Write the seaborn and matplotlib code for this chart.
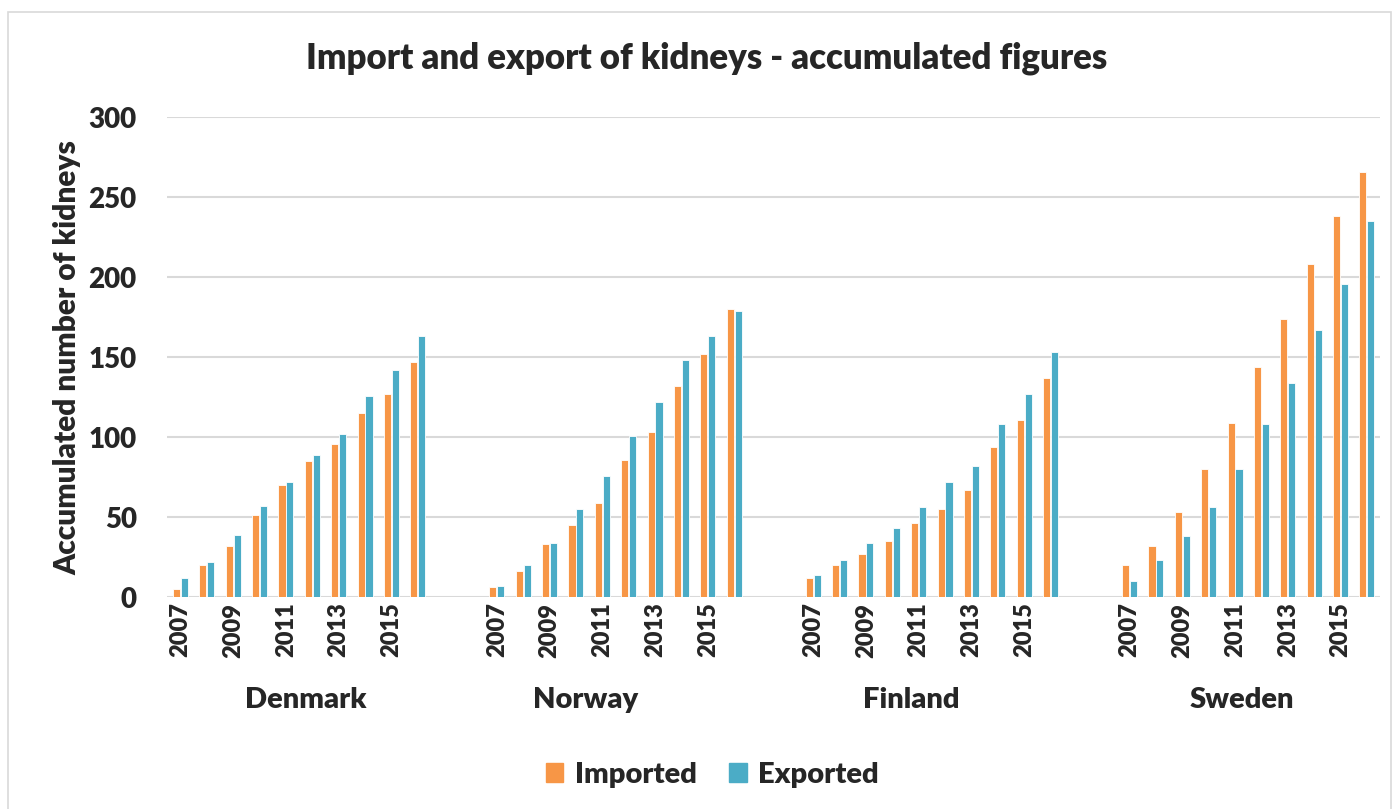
import pandas as pd
import matplotlib.pyplot as plt
import matplotlib.patches as mpatches
import seaborn as sns

# Data
countries = ["Denmark", "Norway", "Finland", "Sweden"]
years = list(range(2007, 2017))
imported = {
    "Denmark": [5, 20, 32, 51, 70, 85, 96, 115, 127, 147],
    "Norway": [6, 16, 33, 45, 59, 86, 103, 132, 152, 180],
    "Finland": [12, 20, 27, 35, 46, 55, 67, 94, 111, 137],
    "Sweden": [20, 32, 53, 80, 109, 144, 174, 208, 238, 266],
}
exported = {
    "Denmark": [12, 22, 39, 57, 72, 89, 102, 126, 142, 163],
    "Norway": [7, 20, 34, 55, 76, 101, 122, 148, 163, 179],
    "Finland": [14, 23, 34, 43, 56, 72, 82, 108, 127, 153],
    "Sweden": [10, 23, 38, 56, 80, 108, 134, 167, 196, 235],
}

# Excel-style layout: 10 years per country, 2 empty slots between countries
rows = []
for gi, c in enumerate(countries):
    for yi, yr in enumerate(years):
        pos = gi * 12 + yi
        rows.append({"pos": pos, "Series": "Imported", "value": imported[c][yi]})
        rows.append({"pos": pos, "Series": "Exported", "value": exported[c][yi]})
df = pd.DataFrame(rows)
n_slots = len(countries) * 12 - 2

sns.set_theme(style="white")
plt.rcParams["font.family"] = ["Lato", "DejaVu Sans"]
W = "heavy"
plt.rcParams["font.weight"] = W

fig = plt.figure(figsize=(13.94, 8.09), dpi=100)
ax = fig.add_axes([0.12, 0.262, 0.87, 0.593])

palette = {"Imported": "#F79646", "Exported": "#4BACC6"}
sns.barplot(data=df, x="pos", y="value", hue="Series", order=list(range(n_slots)),
            palette=palette, saturation=1, width=0.6, gap=0.1,
            edgecolor="white", linewidth=0.6, ax=ax, legend=False)

ax.set_ylim(0, 300)
ax.set_xlim(-0.5, n_slots - 0.5)
ax.set_yticks(range(0, 301, 50))
ax.yaxis.grid(True, color="#D9D9D9", linewidth=1.5)
ax.set_axisbelow(True)
for s in ax.spines.values():
    s.set_visible(False)
ax.tick_params(axis="both", length=0)
ax.tick_params(axis="y", labelsize=20, pad=22)
for t in ax.get_yticklabels():
    t.set_fontweight(W)

tick_pos, tick_lab = [], []
for gi in range(len(countries)):
    for yi, yr in enumerate(years):
        if yr % 2 == 1:
            tick_pos.append(gi * 12 + yi)
            tick_lab.append(str(yr))
ax.set_xticks(tick_pos)
ax.set_xticklabels(tick_lab, rotation=90, fontsize=17, fontweight=W)
ax.tick_params(axis="x", pad=4)
ax.set_xlabel("")
ax.set_ylabel("Accumulated number of kidneys", fontsize=21.5, fontweight=W, labelpad=5)

# country labels (Excel places them slightly off the bar-group centre)
label_offsets = [4.75, 3.35, 3.7, 4.25]
for gi, c in enumerate(countries):
    ax.text(gi * 12 + label_offsets[gi], -0.215, c, transform=ax.get_xaxis_transform(),
            ha="center", va="center", fontsize=21, fontweight=W)

fig.text(0.507, 0.928, "Import and export of kidneys - accumulated figures",
         ha="center", va="center", fontsize=25, fontweight=W)

handles = [mpatches.Patch(color=palette[k], label=k) for k in ["Imported", "Exported"]]
fig.legend(handles=handles, loc="center", bbox_to_anchor=(0.511, 0.042), ncol=2,
           frameon=False, handlelength=0.6, handleheight=0.6,
           columnspacing=1.1, handletextpad=0.4,
           prop={"size": 21, "weight": W})

fig.patches.append(mpatches.Rectangle((0.006, -0.01), 0.992, 0.995, transform=fig.transFigure,
                                      fill=False, edgecolor="#D9D9D9", linewidth=1.2))

fig.savefig("out.png", dpi=100, facecolor="white")
